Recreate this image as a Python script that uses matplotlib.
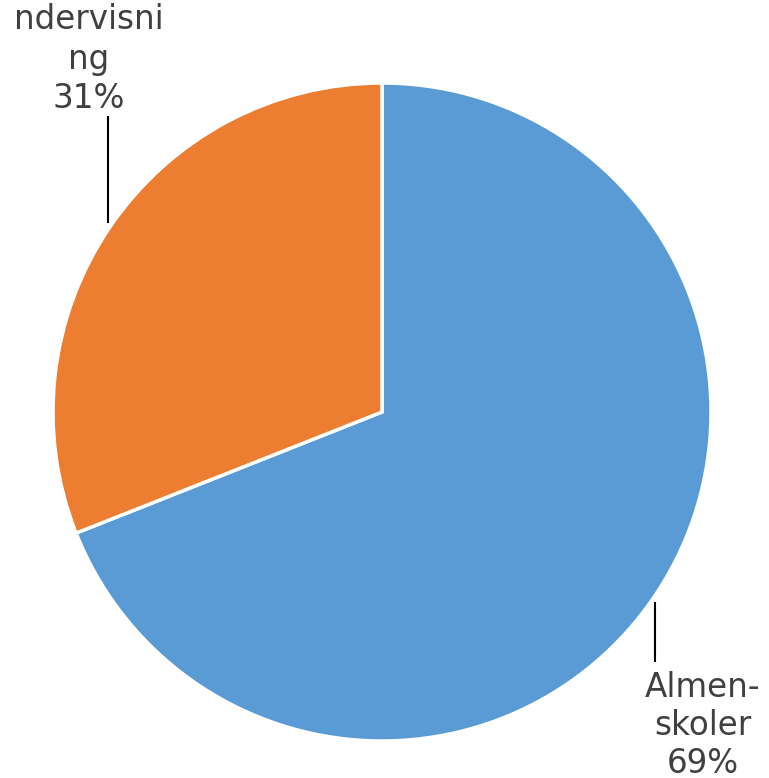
import matplotlib
matplotlib.use("Agg")
import matplotlib.pyplot as plt

# Data
categories = ["Specialundervisning", "Almen-\nskoler"]
shares = [31, 69]
colors = ["#ED7D31", "#5B9BD5"]

W, H = 769, 778
fig = plt.figure(figsize=(W / 100, H / 100), dpi=100, facecolor="white")
ax = fig.add_axes([0, 0, 1, 1])

# pie drawn clockwise from 12 o'clock, blue (69%) first
vals = [shares[1], shares[0]]
cols = [colors[1], colors[0]]
ax.pie(vals, colors=cols, startangle=90, counterclock=False,
       center=(382, H - 412), radius=329, frame=True,
       wedgeprops=dict(edgecolor="white", linewidth=2.5))
ax.set_xlim(0, W)
ax.set_ylim(0, H)
ax.set_aspect("equal")
ax.axis("off")

TXT = "#404040"
FS = 23.5

# label: orange slice (top is cut off in the original)
ax.text(89, H - 108, "ndervisni\nng\n%d%%" % shares[0], ha="center", va="baseline",
        fontsize=FS, color=TXT, linespacing=1.25)
ax.plot([108, 108], [H - 117, H - 222], color="black", lw=1.5)

# label: blue slice
ax.text(703, H - 773, "%s\n%d%%" % (categories[1], shares[1]), ha="center", va="baseline",
        fontsize=FS, color=TXT, linespacing=1.2)
ax.plot([655, 655], [H - 603, H - 661], color="black", lw=1.5)

plt.savefig("out.png", dpi=100, facecolor="white")
plt.close()
